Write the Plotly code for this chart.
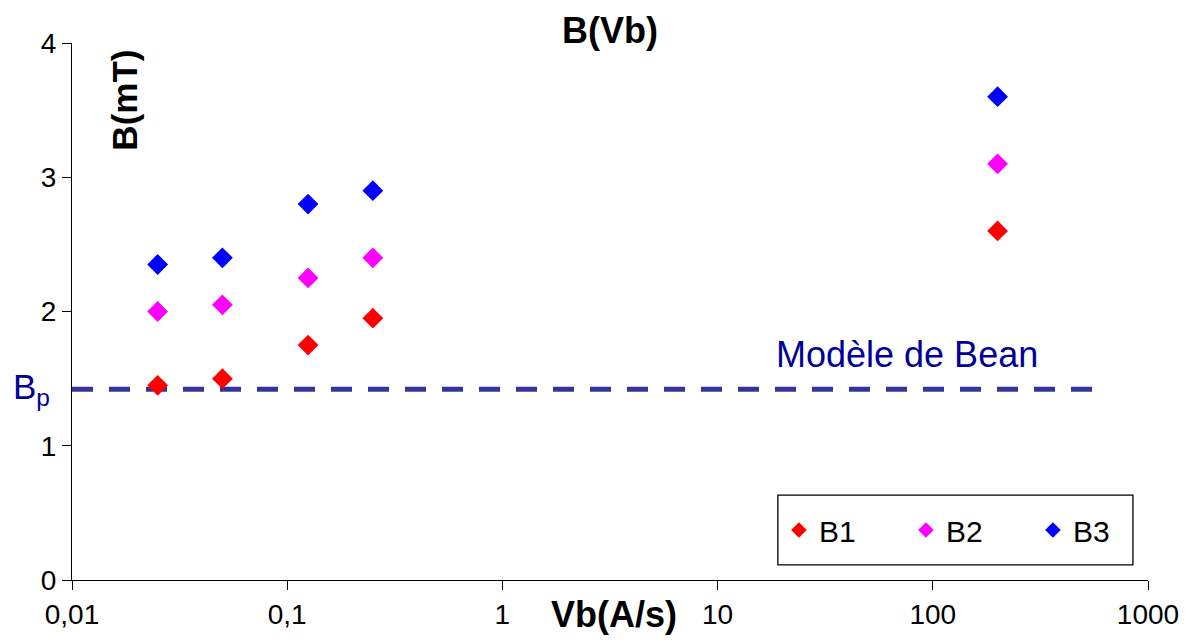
import plotly.graph_objects as go

vb = [0.025, 0.05, 0.125, 0.25, 200]
b1 = [1.45, 1.5, 1.75, 1.95, 2.6]
b2 = [2.0, 2.05, 2.25, 2.4, 3.1]
b3 = [2.35, 2.4, 2.8, 2.9, 3.6]
series_names = ["B1", "B2", "B3"]
series_colors = ["#FF0000", "#FF00FF", "#0000FF"]

bean_x = [0.01, 620]
bean_y = [1.42, 1.42]

x_tickvals = [0.01, 0.1, 1, 10, 100, 1000]
x_ticktext = ["0,01", "0,1", "1", "10", "100", "1000"]
y_tickvals = [0, 1, 2, 3, 4]

FONT = "Liberation Sans, Arial, sans-serif"

fig = go.Figure()
fig.add_trace(go.Scatter(x=bean_x, y=bean_y, mode="lines",
                         line=dict(color="#333399", width=5, dash="21px,16px"),
                         showlegend=False, hoverinfo="skip"))
for name, ys, col in zip(series_names, [b1, b2, b3], series_colors):
    fig.add_trace(go.Scatter(x=vb, y=ys, mode="markers", name=name,
                             marker=dict(symbol="diamond", size=16, color=col,
                                         line=dict(width=0))))

fig.update_layout(
    width=1197, height=643,
    margin=dict(l=64, r=57, t=35, b=71),
    paper_bgcolor="white", plot_bgcolor="white",
    font=dict(family=FONT, size=28, color="black"),
    showlegend=True,
    legend=dict(orientation="h", x=0.657, xanchor="left", y=0.093, yanchor="middle",
                borderwidth=0, bgcolor="rgba(0,0,0,0)",
                font=dict(size=30, family=FONT),
                entrywidth=82, entrywidthmode="pixels",
                itemsizing="constant", traceorder="normal"),
    shapes=[
        dict(type="rect", xref="paper", yref="paper", x0=0.656, x1=0.986, y0=0.028, y1=0.158,
             line=dict(color="black", width=1.3), fillcolor="white", layer="below"),
    ],
    annotations=[
        dict(text="<b>B(Vb)</b>", xref="paper", yref="paper", x=0.5, y=1.024,
             xanchor="center", yanchor="middle", showarrow=False,
             font=dict(size=36, family=FONT)),
        dict(text="<b>B(mT)</b>", xref="paper", yref="paper", x=0.049, y=0.894,
             xanchor="center", yanchor="middle", textangle=-90, showarrow=False,
             font=dict(size=35, family=FONT)),
        dict(text="<b>Vb(A/s)</b>", xref="paper", yref="paper", x=0.504, y=-0.065,
             xanchor="center", yanchor="middle", showarrow=False,
             font=dict(size=36, family=FONT)),
        dict(text="Modèle de Bean", xref="paper", yref="paper", x=0.776, y=0.419,
             xanchor="center", yanchor="middle", showarrow=False,
             font=dict(size=36, family=FONT, color="#000099")),
        dict(text="B<sub>p</sub>", xref="paper", yref="paper", x=-0.038, y=0.356,
             xanchor="center", yanchor="middle", showarrow=False,
             font=dict(size=35, family=FONT, color="#000099")),
    ],
)
fig.update_xaxes(type="log", range=[-2, 3], tickvals=x_tickvals, ticktext=x_ticktext,
                 showgrid=False, zeroline=False, showline=True, linecolor="black",
                 linewidth=1.3, ticks="outside", ticklen=9, tickcolor="black",
                 tickfont=dict(size=28, family=FONT))
fig.update_yaxes(range=[0, 4], tickvals=y_tickvals, showgrid=False, zeroline=False,
                 showline=True, linecolor="black", linewidth=1.3, ticks="outside",
                 ticklen=9, tickcolor="black", tickfont=dict(size=28, family=FONT))

fig.write_html("out.html")
